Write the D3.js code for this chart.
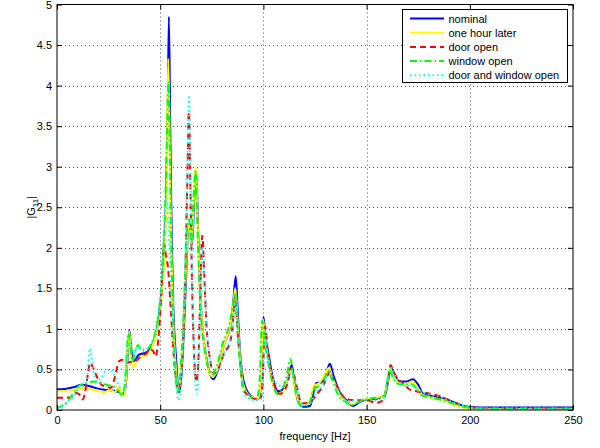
<!DOCTYPE html>
<html>
<head>
<meta charset="utf-8">
<script src="https://cdn.jsdelivr.net/npm/d3@7"></script>
<style>
  html, body { margin: 0; padding: 0; background: #fff; }
  svg { display: block; font-family: "Liberation Sans", Arial, sans-serif; }
</style>
</head>
<body>
<svg id="chart" width="600" height="448"></svg>
<script>
// Frequency response magnitude |G11| for five room configurations: [frequency Hz, magnitude]
const nominal = [[0,0.255],[4,0.26],[8,0.28],[12,0.31],[15,0.3],[19,0.27],[23,0.25],[27,0.24],[30,0.22],[32,0.2],[33.3,0.3],[34.3,0.7],[35,0.99],[35.8,0.8],[36.8,0.6],[38,0.62],[39.5,0.68],[42,0.7],[44,0.72],[46,0.8],[48,0.95],[50,1.3],[51.5,1.75],[52.8,2.6],[53.6,3.6],[54.2,4.85],[54.9,3.4],[55.6,2.1],[56.3,1.3],[57,0.9],[57.8,0.6],[58.6,0.3],[59.3,0.22],[60.2,0.4],[61.3,0.9],[62.5,1.6],[63.5,2.2],[64.5,2.25],[65.5,2.05],[66.5,2.6],[67.5,2.92],[68.4,2.2],[69.3,1.5],[70.5,1.0],[72,0.7],[74,0.45],[75.8,0.38],[78,0.5],[80.5,0.78],[83.9,1.03],[85.3,1.3],[86.6,1.65],[87.6,1.2],[88.6,0.75],[90.3,0.37],[93.5,0.185],[97.6,0.135],[98.8,0.3],[100,1.15],[101,0.9],[102.4,0.7],[104.8,0.37],[107.2,0.23],[109.6,0.26],[112,0.39],[113.7,0.555],[115.3,0.29],[116.9,0.1],[119.3,0.04],[122.6,0.05],[125.5,0.33],[128.2,0.34],[130.6,0.47],[132.2,0.57],[133.9,0.43],[137.1,0.21],[140.3,0.12],[143.5,0.05],[146.8,0.1],[150,0.13],[154.8,0.14],[158.9,0.185],[160.5,0.37],[161.6,0.53],[162.9,0.47],[166.1,0.35],[169.4,0.35],[172.5,0.38],[175,0.31],[177.4,0.2],[182.2,0.17],[187,0.145],[191.9,0.1],[196.7,0.05],[201.6,0.035],[210,0.03],[250,0.03]];

const oneHourLater = [[0,0.23],[4,0.235],[8,0.25],[12,0.27],[15,0.265],[19,0.24],[23,0.22],[26,0.25],[28,0.22],[30,0.28],[31.3,0.2],[32.5,0.18],[33.5,0.4],[34.4,0.8],[35,0.97],[35.8,0.7],[36.8,0.52],[37.6,0.55],[39,0.62],[41,0.66],[43,0.68],[45,0.72],[47,0.85],[49,1.05],[50.5,1.35],[52,1.9],[53.2,2.9],[53.9,4.33],[54.6,3.3],[55.4,2.0],[56.2,1.2],[57,0.75],[58,0.4],[58.8,0.25],[59.7,0.35],[61,0.85],[62.3,1.6],[63.4,2.2],[64.3,2.3],[65.3,2.05],[66.3,2.6],[67.3,3.0],[68.3,2.2],[69.3,1.5],[70.5,1.0],[72,0.68],[74,0.45],[75.5,0.41],[78,0.52],[80.5,0.78],[84,1.05],[85.4,1.3],[86.4,1.5],[87.5,1.1],[88.6,0.7],[90.2,0.32],[93.5,0.17],[97.5,0.14],[98.8,0.35],[99.8,1.12],[101,0.85],[102.5,0.62],[104.8,0.32],[107,0.19],[109.5,0.22],[112,0.4],[113.5,0.5],[115,0.3],[116.8,0.12],[119,0.06],[122,0.08],[124.5,0.3],[127,0.33],[130,0.45],[131.8,0.52],[133.5,0.4],[137,0.19],[140,0.11],[143,0.07],[146.5,0.11],[150,0.14],[154.5,0.15],[158.5,0.17],[160.2,0.35],[161.3,0.52],[162.7,0.44],[165.8,0.33],[169,0.32],[172,0.35],[174.6,0.28],[177,0.19],[182,0.15],[187,0.12],[192,0.07],[197,0.03],[202,0.015],[210,0.01],[250,0.01]];

const doorOpen = [[0,0.15],[4,0.15],[7.4,0.16],[9,0.21],[10.5,0.2],[12.5,0.13],[13.8,0.25],[15,0.45],[16,0.58],[17.5,0.52],[19.5,0.4],[21.6,0.31],[24,0.29],[26,0.27],[28,0.4],[30,0.6],[31.5,0.62],[33,0.58],[35,0.59],[37,0.6],[39,0.62],[41,0.67],[43,0.69],[45,0.75],[46.5,0.73],[47.8,0.66],[49,0.85],[50.5,1.4],[51.8,2.05],[52.8,1.9],[53.8,1.75],[55,1.3],[56.2,0.8],[57.5,0.4],[58.7,0.25],[59.8,0.35],[61,0.8],[62.2,1.7],[63.2,2.9],[63.9,3.68],[64.6,2.8],[65.4,1.6],[66.4,0.7],[67.5,0.35],[68.3,0.5],[69.2,1.2],[70.4,2.15],[71.3,1.7],[72.5,1.0],[74,0.65],[76,0.45],[78,0.5],[81,0.7],[84,0.85],[85.3,1.1],[86.3,1.4],[87.4,1.0],[88.7,0.6],[90.3,0.25],[91.9,0.2],[95.1,0.14],[98.4,0.13],[99.5,0.3],[100.8,1.03],[102,0.75],[104,0.43],[108,0.2],[111.3,0.3],[113.7,0.52],[116.1,0.3],[118.5,0.08],[122.6,0.1],[126,0.2],[129,0.3],[131,0.42],[132.5,0.48],[134,0.38],[135.5,0.3],[140,0.14],[145,0.12],[150,0.12],[154.8,0.09],[158,0.12],[160.5,0.4],[161.6,0.555],[163,0.48],[164.5,0.4],[167.7,0.33],[171,0.25],[174,0.23],[179,0.21],[185.5,0.17],[192,0.1],[198,0.04],[205,0.025],[250,0.02]];

const windowOpen = [[0,0.02],[3,0.06],[5,0.1],[7.2,0.18],[9,0.25],[11,0.3],[14,0.33],[17.7,0.35],[20,0.34],[22.6,0.32],[25.8,0.3],[28,0.28],[30,0.23],[31.6,0.17],[32.8,0.3],[33.8,0.7],[34.6,0.95],[35.6,0.75],[36.6,0.6],[37.8,0.72],[39.3,0.8],[40.5,0.75],[42.5,0.73],[44.5,0.77],[46.5,0.86],[48,1.0],[49.5,1.25],[51,1.7],[52.4,2.5],[53.4,3.5],[54,4.05],[54.7,3.2],[55.4,2.0],[56.2,1.15],[57,0.65],[57.8,0.35],[58.5,0.22],[59.4,0.35],[60.7,0.85],[62,1.6],[63.1,2.25],[64,2.35],[65,2.05],[66.1,2.6],[67.1,2.95],[68.1,2.2],[69.1,1.5],[70.3,1.0],[71.8,0.7],[73.8,0.48],[75.2,0.44],[77.5,0.55],[80,0.8],[83.5,1.05],[85,1.25],[86.2,1.45],[87.3,1.1],[88.3,0.7],[89.8,0.33],[92.5,0.2],[96.5,0.13],[98,0.3],[99.4,1.1],[100.6,0.85],[102.2,0.6],[104.5,0.32],[106.8,0.2],[109.2,0.26],[111.5,0.45],[113.1,0.63],[114.6,0.4],[116.3,0.15],[118.7,0.05],[122,0.07],[124.3,0.25],[127,0.3],[129.8,0.4],[131.5,0.48],[133.2,0.38],[136.5,0.17],[139.8,0.1],[142.8,0.06],[146.3,0.1],[150,0.13],[154.3,0.15],[158.3,0.16],[159.9,0.33],[161,0.5],[162.4,0.42],[165.5,0.32],[168.8,0.31],[171.5,0.32],[174.2,0.26],[176.8,0.18],[182,0.15],[187,0.12],[192,0.08],[197,0.04],[202,0.025],[210,0.02],[250,0.02]];

const doorAndWindowOpen = [[0,0.02],[3,0.05],[6,0.12],[9,0.2],[11,0.3],[13,0.3],[14.5,0.4],[16,0.76],[17.5,0.5],[19.5,0.35],[21.5,0.4],[23.5,0.48],[26,0.5],[28,0.42],[30,0.3],[32,0.25],[33.5,0.5],[34.5,0.8],[35.5,0.85],[37,0.7],[39,0.78],[41,0.76],[43,0.74],[45,0.8],[47,0.9],[49,1.1],[50.5,1.5],[51.8,2.2],[52.9,2.6],[54,2.3],[55.2,1.5],[56.4,0.8],[57.6,0.35],[58.8,0.12],[59.9,0.3],[61.1,0.9],[62.3,2.0],[63.3,3.2],[64,3.88],[64.7,2.9],[65.5,1.6],[66.6,0.6],[67.7,0.2],[68.5,0.45],[69.4,1.3],[70.5,2.0],[71.4,1.6],[72.6,1.0],[74.2,0.6],[76.2,0.42],[78.5,0.5],[81.5,0.75],[84.3,0.9],[85.6,1.15],[86.6,1.4],[87.7,1.0],[89,0.55],[90.6,0.2],[92.5,0.15],[95.5,0.12],[98.8,0.13],[99.9,0.5],[100.7,1.0],[102,0.7],[104.2,0.42],[108,0.3],[111.3,0.36],[113.5,0.5],[115.8,0.3],[118.3,0.07],[122.3,0.08],[125.5,0.22],[128.8,0.3],[131,0.42],[132.5,0.46],[134,0.36],[137,0.2],[141,0.1],[145,0.12],[150,0.13],[155,0.12],[158.5,0.15],[160.3,0.42],[161.5,0.52],[163,0.45],[166,0.34],[169,0.3],[172,0.3],[175,0.25],[179,0.2],[185.5,0.16],[192,0.09],[198,0.04],[205,0.02],[250,0.02]];

const seriesNames = ["nominal", "one hour later", "door open", "window open", "door and window open"];
const xTicks = [0, 50, 100, 150, 200, 250];
const yTicks = [0, 0.5, 1, 1.5, 2, 2.5, 3, 3.5, 4, 4.5, 5];

const seriesData = [nominal, oneHourLater, doorOpen, windowOpen, doorAndWindowOpen];
const seriesStyle = [
  { color: "#0000ff", dash: null },
  { color: "#ffff00", dash: null },
  { color: "#ff0000", dash: "6,4" },
  { color: "#00ff00", dash: "7,3,1.5,3" },
  { color: "#00ffff", dash: "1.5,3" }
];

const svg = d3.select("#chart");
const plotL = 57, plotR = 573, plotT = 4.5, plotB = 410;

const x = d3.scaleLinear().domain([0, 250]).range([plotL, plotR]);
const y = d3.scaleLinear().domain([0, 5]).range([plotB, plotT]);

// dotted grid
const grid = svg.append("g").attr("stroke", "#555").attr("stroke-width", 1)
  .attr("stroke-dasharray", "1,3").attr("fill", "none");
grid.selectAll("line.gx").data(xTicks.slice(1, -1)).join("line")
  .attr("x1", d => Math.round(x(d)) + 0.5).attr("x2", d => Math.round(x(d)) + 0.5)
  .attr("y1", plotT).attr("y2", plotB);
grid.selectAll("line.gy").data(yTicks.slice(1, -1)).join("line")
  .attr("x1", plotL).attr("x2", plotR)
  .attr("y1", d => Math.round(y(d)) + 0.5).attr("y2", d => Math.round(y(d)) + 0.5);

// curves
svg.append("defs").append("clipPath").attr("id", "plotClip")
  .append("rect").attr("x", plotL).attr("y", plotT).attr("width", plotR - plotL).attr("height", plotB - plotT);

const line = d3.line().x(d => x(d[0])).y(d => y(d[1])).curve(d3.curveMonotoneX);
const curves = svg.append("g").attr("clip-path", "url(#plotClip)");
seriesData.forEach((data, i) => {
  curves.append("path")
    .datum(data)
    .attr("d", line)
    .attr("fill", "none")
    .attr("stroke", seriesStyle[i].color)
    .attr("stroke-width", 2)
    .attr("stroke-linejoin", "round")
    .attr("stroke-dasharray", seriesStyle[i].dash);
});

// axes with inward ticks on all four sides
const fmt = d => String(d);
const axB = svg.append("g").attr("transform", `translate(0,${plotB})`)
  .call(d3.axisBottom(x).tickValues(xTicks).tickSizeInner(-5).tickSizeOuter(0).tickPadding(6).tickFormat(fmt));
const axT = svg.append("g").attr("transform", `translate(0,${plotT})`)
  .call(d3.axisTop(x).tickValues(xTicks).tickSizeInner(-5).tickSizeOuter(0).tickFormat(""));
const axL = svg.append("g").attr("transform", `translate(${plotL},0)`)
  .call(d3.axisLeft(y).tickValues(yTicks).tickSizeInner(-5).tickSizeOuter(0).tickPadding(5).tickFormat(fmt));
const axR = svg.append("g").attr("transform", `translate(${plotR},0)`)
  .call(d3.axisRight(y).tickValues(yTicks).tickSizeInner(-5).tickSizeOuter(0).tickFormat(""));
[axB, axT, axL, axR].forEach(g => {
  g.select(".domain").remove();
  g.selectAll(".tick line").attr("stroke", "#000");
  g.selectAll("text").attr("font-size", 11).attr("fill", "#000")
    .attr("font-family", "Liberation Sans, Arial, sans-serif");
});

// frame
svg.append("rect").attr("x", plotL).attr("y", plotT).attr("width", plotR - plotL).attr("height", plotB - plotT)
  .attr("fill", "none").attr("stroke", "#000").attr("stroke-width", 1);

// axis titles
svg.append("text").attr("x", (plotL + plotR) / 2).attr("y", 440)
  .attr("text-anchor", "middle").attr("font-size", 11).text("frequency [Hz]");
const yl = svg.append("text").attr("transform", `translate(35,${(plotT + plotB) / 2}) rotate(-90)`)
  .attr("text-anchor", "middle").attr("font-size", 11);
yl.append("tspan").text("|G");
yl.append("tspan").attr("font-size", 8).attr("dy", 3).text("11");
yl.append("tspan").attr("dy", -3).text("|");

// legend
const lg = svg.append("g");
lg.append("rect").attr("x", 402.5).attr("y", 9.5).attr("width", 165).attr("height", 73)
  .attr("fill", "#fff").attr("stroke", "#000").attr("stroke-width", 1);
seriesNames.forEach((name, i) => {
  const yy = 18.5 + i * 14.2;
  lg.append("line").attr("x1", 410).attr("x2", 444).attr("y1", yy).attr("y2", yy)
    .attr("stroke", seriesStyle[i].color).attr("stroke-width", 2)
    .attr("stroke-dasharray", seriesStyle[i].dash);
  lg.append("text").attr("x", 448.5).attr("y", yy + 4).attr("font-size", 11).text(name);
});
</script>
</body>
</html>
